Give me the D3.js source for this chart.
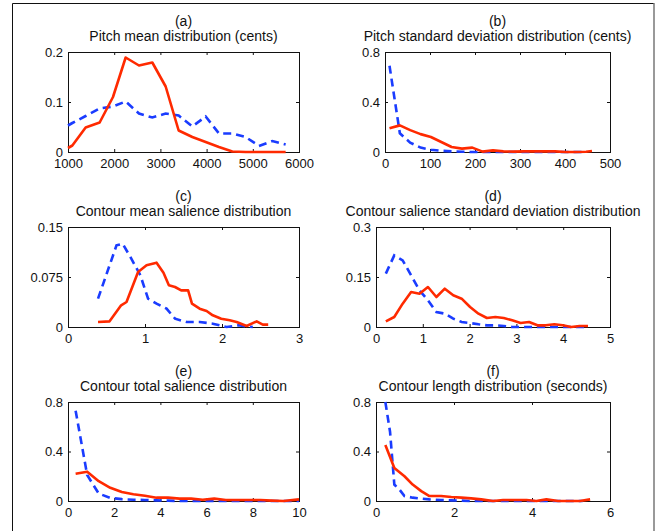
<!DOCTYPE html>
<html>
<head>
<meta charset="utf-8">
<script src="https://cdn.jsdelivr.net/npm/d3@7"></script>
<style>
  body { margin: 0; background: #fff; }
  svg { display: block; }
</style>
</head>
<body>
<script>
// ---- data ----
const titles = [
    'Pitch mean distribution (cents)',
    'Pitch standard deviation distribution (cents)',
    'Contour mean salience distribution',
    'Contour salience standard deviation distribution',
    'Contour total salience distribution',
    'Contour length distribution (seconds)',
];
const letters = ['(a)', '(b)', '(c)', '(d)', '(e)', '(f)'];

// (a) pitch mean
const aX = [1000, 1094, 1382, 1685, 1974, 2248, 2537, 2825, 3114, 3395, 3691, 3980, 4268, 4557, 4846, 5134, 5423, 5711];
const aSolid = [0.008, 0.013, 0.049, 0.059, 0.11, 0.189, 0.173, 0.179, 0.131, 0.043, 0.03, 0.02, 0.01, 0.001, 0, 0, 0, 0];
const aDashed = [0.053, 0.058, 0.072, 0.087, 0.091, 0.101, 0.077, 0.069, 0.077, 0.073, 0.051, 0.071, 0.037, 0.037, 0.03, 0.012, 0.022, 0.015];
const aXTicks = [1000, 2000, 3000, 4000, 5000, 6000];
const aYTicks = [0, 0.1, 0.2];

// (b) pitch std
const bX = [10, 33, 56, 79, 102, 125, 148, 171, 194, 217, 240, 263, 286, 309, 332, 355, 378, 401, 424, 447, 460];
const bSolid = [0.19, 0.213, 0.175, 0.143, 0.12, 0.08, 0.04, 0.027, 0.035, 0.003, 0.013, 0.005, 0.003, 0.005, 0.005, 0.005, 0.005, 0, 0, 0.002, 0.008];
const bDashed = [0.69, 0.15, 0.075, 0.035, 0.018, 0.01, 0.005, 0.002, 0, 0, 0, 0, 0, 0, 0, 0, 0, 0, 0, 0, null];
const bXTicks = [0, 100, 200, 300, 400, 500];
const bYTicks = [0, 0.4, 0.8];

// (c) mean salience
const cSolidX = [0.39, 0.54, 0.69, 0.76, 0.91, 1.02, 1.15, 1.24, 1.31, 1.39, 1.47, 1.56, 1.61, 1.71, 1.8, 1.88, 1.99, 2.1, 2.19, 2.32, 2.45, 2.53, 2.6];
const cSolid = [0.0075, 0.0085, 0.0325, 0.0375, 0.0825, 0.0925, 0.0965, 0.0815, 0.0625, 0.06, 0.055, 0.055, 0.035, 0.0275, 0.024, 0.0175, 0.0125, 0.01, 0.0075, 0.0015, 0.0085, 0.0035, 0.0035];
const cDashedX = [0.39, 0.63, 0.71, 0.81, 0.94, 1.04, 1.15, 1.28, 1.39, 1.54, 1.71, 1.88, 2.06, 2.21, 2.4];
const cDashed = [0.0425, 0.1225, 0.125, 0.105, 0.0775, 0.0425, 0.035, 0.0275, 0.0125, 0.0075, 0.0075, 0.005, 0, 0.0025, 0];
const cXTicks = [0, 1, 2, 3];
const cYTicks = [0, 0.075, 0.15];

// (d) salience std
const dX = [0.21, 0.39, 0.57, 0.75, 0.93, 1.11, 1.29, 1.47, 1.65, 1.83, 2.01, 2.19, 2.37, 2.55, 2.73, 2.91, 3.09, 3.27, 3.45, 3.63, 3.81, 3.99, 4.17, 4.35, 4.53];
const dSolid = [0.017, 0.03, 0.07, 0.105, 0.1, 0.12, 0.09, 0.115, 0.095, 0.085, 0.06, 0.04, 0.027, 0.03, 0.027, 0.02, 0.012, 0.015, 0.005, 0.005, 0.008, 0.005, 0, 0.003, 0.003];
const dDashed = [0.16, 0.215, 0.2, 0.155, 0.11, 0.08, 0.045, 0.04, 0.025, 0.015, 0.012, 0.008, 0.005, 0.005, 0.003, 0, 0, 0, 0, 0, 0, 0, 0, 0, 0];
const dXTicks = [0, 1, 2, 3, 4, 5];
const dYTicks = [0, 0.15, 0.3];

// (e) total salience
const eX = [0.33, 0.83, 1.33, 1.83, 2.33, 2.83, 3.33, 3.83, 4.33, 4.83, 5.33, 5.83, 6.33, 6.83, 7.33, 7.83, 8.33, 8.83, 9.33, 10];
const eSolid = [0.22, 0.237, 0.16, 0.107, 0.072, 0.055, 0.042, 0.027, 0.027, 0.019, 0.019, 0.01, 0.019, 0.008, 0.008, 0.008, 0.008, 0.003, 0, 0.013];
const eDashed = [0.73, 0.21, 0.06, 0.025, 0.015, 0.01, 0.008, 0.005, 0.003, 0, 0, 0, 0, 0, 0, 0, 0, 0, 0, 0];
const eXTicks = [0, 2, 4, 6, 8, 10];
const eYTicks = [0, 0.4, 0.8];

// (f) contour length
const fSolidX = [0.24, 0.47, 0.73, 0.94, 1.16, 1.37, 1.67, 1.93, 2.19, 2.44, 2.7, 3.0, 3.26, 3.56, 3.86, 4.11, 4.37, 4.67, 4.93, 5.23, 5.49];
const fSolid = [0.453, 0.267, 0.2, 0.133, 0.08, 0.04, 0.04, 0.032, 0.027, 0.021, 0.013, 0, 0.008, 0.008, 0.008, 0, 0.013, 0, 0, 0, 0.013];
const fDashedX = [0.24, 0.36, 0.47, 0.6, 0.73, 0.94, 1.16, 1.37, 1.67, 1.93, 2.19, 2.44, 3.0, 4.0, 5.3];
const fDashed = [0.8, 0.56, 0.133, 0.093, 0.04, 0.027, 0.019, 0.013, 0.008, 0.005, 0.003, 0, 0, 0, 0];
const fXTicks = [0, 2, 4, 6];
const fYTicks = [0, 0.4, 0.8];

// ---- layout ----
const width = 665, height = 531;
const font = '"Liberation Sans", Arial, Helvetica, sans-serif';
const solidColor = '#ff2a00';
const dashedColor = '#1a3cff';

const panels = [
    {box: [68, 52, 299, 152], xDomain: [1000, 6000], yDomain: [0, 0.2], xTicks: aXTicks, yTicks: aYTicks,
     solid: [aX, aSolid], dashed: [aX, aDashed]},
    {box: [385, 52, 610, 152], xDomain: [0, 500], yDomain: [0, 0.8], xTicks: bXTicks, yTicks: bYTicks,
     solid: [bX, bSolid], dashed: [bX, bDashed]},
    {box: [68, 227, 299, 327], xDomain: [0, 3], yDomain: [0, 0.15], xTicks: cXTicks, yTicks: cYTicks,
     solid: [cSolidX, cSolid], dashed: [cDashedX, cDashed]},
    {box: [376, 227, 610, 327], xDomain: [0, 5], yDomain: [0, 0.3], xTicks: dXTicks, yTicks: dYTicks,
     solid: [dX, dSolid], dashed: [dX, dDashed]},
    {box: [68, 402, 299, 501], xDomain: [0, 10], yDomain: [0, 0.8], xTicks: eXTicks, yTicks: eYTicks,
     solid: [eX, eSolid], dashed: [eX, eDashed]},
    {box: [376, 402, 610, 501], xDomain: [0, 6], yDomain: [0, 0.8], xTicks: fXTicks, yTicks: fYTicks,
     solid: [fSolidX, fSolid], dashed: [fDashedX, fDashed]},
];

const svg = d3.select('body').append('svg')
    .attr('width', width)
    .attr('height', height);

// figure frame (top + left dark, right grey)
svg.append('path')
    .attr('d', 'M12.5,531 V3.5 H654')
    .attr('fill', 'none')
    .attr('stroke', '#111')
    .attr('stroke-width', 1);
svg.append('line')
    .attr('x1', 654).attr('x2', 654)
    .attr('y1', 3).attr('y2', height)
    .attr('stroke', '#777')
    .attr('stroke-width', 1.5);

const fmt = d => String(d);

function styleAxis(a) {
    a.select('.domain').remove();
    a.attr('font-size', 13).attr('font-family', font);
    a.selectAll('text').attr('fill', '#111');
    a.selectAll('line').attr('stroke', '#111');
}

panels.forEach((p, i) => {
    const [x0, y0, x1, y1] = p.box;
    const X = d3.scaleLinear().domain(p.xDomain).range([x0, x1]);
    const Y = d3.scaleLinear().domain(p.yDomain).range([y1, y0]);
    const g = svg.append('g').attr('class', 'panel');

    // inward ticks on all four sides, labels only bottom + left
    g.append('g').attr('transform', `translate(0,${y1})`)
        .call(d3.axisBottom(X).tickValues(p.xTicks).tickSizeInner(-3).tickSizeOuter(0).tickPadding(7).tickFormat(fmt))
        .call(styleAxis);
    g.append('g').attr('transform', `translate(0,${y0})`)
        .call(d3.axisTop(X).tickValues(p.xTicks).tickSizeInner(-3).tickSizeOuter(0).tickFormat(''))
        .call(styleAxis);
    g.append('g').attr('transform', `translate(${x0},0)`)
        .call(d3.axisLeft(Y).tickValues(p.yTicks).tickSizeInner(-3).tickSizeOuter(0).tickPadding(5).tickFormat(fmt))
        .call(styleAxis);
    g.append('g').attr('transform', `translate(${x1},0)`)
        .call(d3.axisRight(Y).tickValues(p.yTicks).tickSizeInner(-3).tickSizeOuter(0).tickFormat(''))
        .call(styleAxis);

    g.append('rect')
        .attr('x', x0 + 0.5).attr('y', y0 + 0.5)
        .attr('width', x1 - x0).attr('height', y1 - y0)
        .attr('fill', 'none')
        .attr('stroke', '#111')
        .attr('stroke-width', 1);

    const line = d3.line()
        .defined(d => d[1] != null)
        .x(d => X(d[0]))
        .y(d => Y(d[1]));

    g.append('path')
        .datum(d3.zip(...p.dashed))
        .attr('d', line)
        .attr('fill', 'none')
        .attr('stroke', dashedColor)
        .attr('stroke-width', 2.6)
        .attr('stroke-dasharray', '8,5');
    g.append('path')
        .datum(d3.zip(...p.solid))
        .attr('d', line)
        .attr('fill', 'none')
        .attr('stroke', solidColor)
        .attr('stroke-width', 2.6)
        .attr('stroke-linejoin', 'round');

    // titles
    const cx = (x0 + x1) / 2;
    g.append('text')
        .attr('x', cx).attr('y', y0 - 26)
        .attr('text-anchor', 'middle')
        .attr('font-family', font).attr('font-size', 14)
        .attr('fill', '#111')
        .text(letters[i]);
    g.append('text')
        .attr('x', cx).attr('y', y0 - 11)
        .attr('text-anchor', 'middle')
        .attr('font-family', font).attr('font-size', 14)
        .attr('fill', '#111')
        .text(titles[i]);
});
</script>
</body>
</html>
